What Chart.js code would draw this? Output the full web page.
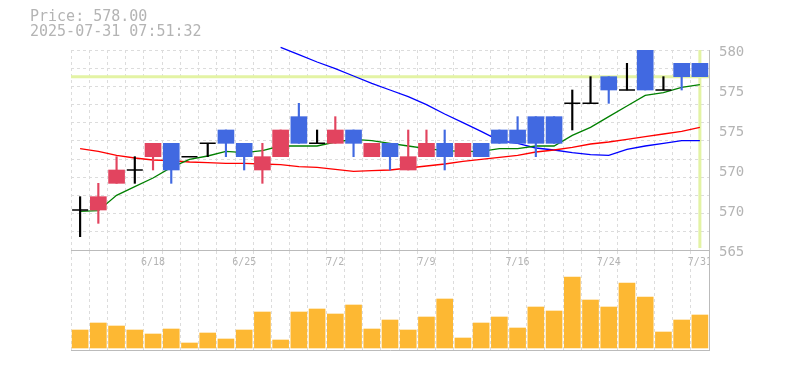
<!DOCTYPE html>
<html>
<head>
<meta charset="utf-8">
<script src="https://cdn.jsdelivr.net/npm/chart.js@4.4.1/dist/chart.umd.min.js"></script>
<style>
  body { margin: 0; background: #fff; }
  #wrap { position: relative; width: 785px; height: 370px; }
  #wrap canvas { position: absolute; left: 0; top: 0; }
</style>
</head>
<body>
<div id="wrap">
  <canvas id="price" width="785" height="370"></canvas>
  <canvas id="volume" width="785" height="370"></canvas>
</div>
<script>
const lastPrice = 578.00
const stamp = '2025-07-31 07:51:32'

const dates = ['6/12', '6/13', '6/16', '6/17', '6/18', '6/19', '6/20', '6/23', '6/24', '6/25',
  '6/26', '6/27', '6/30', '7/1', '7/2', '7/3', '7/4', '7/7', '7/8', '7/9',
  '7/10', '7/11', '7/14', '7/15', '7/16', '7/17', '7/18', '7/22', '7/23', '7/24',
  '7/25', '7/28', '7/29', '7/30', '7/31']
const tickDates = ['6/18', '6/25', '7/2', '7/9', '7/16', '7/24', '7/31']

const opens  = [568, 568, 570, 571, 572, 573, 572, 573, 574, 573, 571, 572, 575, 573, 573, 574, 572, 573, 571, 572, 573, 572, 573, 574, 574, 575, 575, 576, 576, 578, 577, 580, 577, 579, 579]
const highs  = [569, 570, 572, 572, 573, 573, 572, 573, 574, 573, 573, 574, 576, 574, 575, 574, 573, 573, 574, 574, 574, 573, 573, 574, 575, 575, 575, 577, 578, 578, 579, 580, 578, 579, 579]
const lows   = [566, 567, 570, 570, 571, 570, 572, 572, 572, 571, 570, 572, 573, 573, 573, 572, 572, 571, 571, 572, 571, 572, 572, 573, 573, 572, 573, 574, 576, 576, 577, 577, 577, 577, 578]
const closes = [568, 569, 571, 571, 573, 571, 572, 573, 573, 572, 572, 574, 573, 573, 574, 573, 573, 572, 572, 573, 572, 573, 572, 573, 573, 573, 573, 576, 576, 577, 577, 577, 577, 578, 578]

const ma5  = [567.9, 567.95, 569.1, 569.75, 570.4, 571.2, 571.8, 572.05, 572.4, 572.3, 572.45, 572.8, 572.8, 572.8, 573.1, 573.3, 573.2, 573.0, 572.8, 572.6, 572.45, 572.4, 572.4, 572.6, 572.6, 572.8, 572.8, 573.6, 574.2, 575.0, 575.8, 576.6, 576.8, 577.2, 577.4]
const ma25 = [572.6, 572.4, 572.1, 571.9, 571.75, 571.7, 571.6, 571.55, 571.5, 571.5, 571.45, 571.4, 571.25, 571.2, 571.05, 570.9, 570.95, 571.0, 571.15, 571.3, 571.45, 571.65, 571.8, 571.95, 572.1, 572.35, 572.5, 572.7, 572.95, 573.1, 573.3, 573.5, 573.7, 573.9, 574.2]
const ma75 = [null, null, null, null, null, null, null, null, null, null, null,
  580.2, 579.65, 579.1, 578.6, 578.05, 577.5, 577.0, 576.5, 575.9, 575.2, 574.55, 573.9, 573.2, 573.0, 572.65, 572.5, 572.3, 572.15, 572.1, 572.55, 572.8, 573.0, 573.2, 573.2]

const volumes = [1800, 2500, 2200, 1800, 1400, 1900, 500, 1500, 900, 1800, 3600, 800, 3600, 3900, 3400, 4300, 1900, 2800, 1800, 3100,
  4900, 1000, 2500, 3100, 2000, 4100, 3700, 7100, 4800, 4100, 6500, 5100, 1600, 2800, 3300]

const upColor = '#e2445f'
const downColor = '#4169e1'
const gridColor = '#dcdcdc'
const textColor = '#b4b4b4'
const mono = "'DejaVu Sans Mono', monospace"

// bodies as floating bars, doji drawn as a short horizontal line
const bodies = opens.map((o, i) => o === closes[i] ? null : [o, closes[i]])
const wicks = lows.map((l, i) => [l, highs[i]])
const dojis = opens.map((o, i) => o === closes[i] ? closes[i] : null)
const bodyColors = opens.map((o, i) => closes[i] > o ? upColor : downColor)
const wickColors = opens.map((o, i) => o === closes[i] ? '#000' : (closes[i] > o ? upColor : downColor))

const priceLine = {
  id: 'priceLine',
  beforeDatasetsDraw(chart) {
    const {ctx, chartArea, scales} = chart
    const y = scales.y.getPixelForValue(lastPrice)
    const x = scales.x.getPixelForValue(dates.length - 1)
    ctx.save()
    ctx.strokeStyle = '#e3f3a4'
    ctx.lineWidth = 3
    ctx.beginPath()
    ctx.moveTo(chartArea.left, y)
    ctx.lineTo(chartArea.right, y)
    ctx.moveTo(x, chartArea.top)
    ctx.lineTo(x, chartArea.bottom - 2)
    ctx.stroke()
    ctx.restore()
  }
}

const dateLabels = {
  id: 'dateLabels',
  afterDatasetsDraw(chart) {
    const {ctx, chartArea, scales} = chart
    ctx.save()
    ctx.beginPath()
    ctx.rect(chartArea.left, chartArea.top, chartArea.right - chartArea.left, chartArea.bottom - chartArea.top)
    ctx.clip()
    ctx.font = '10px ' + mono
    ctx.fillStyle = textColor
    ctx.textAlign = 'center'
    ctx.textBaseline = 'middle'
    dates.forEach((d, i) => {
      if (tickDates.includes(d)) {
        ctx.fillText(d, scales.x.getPixelForValue(i), chartArea.top + 11)
      }
    })
    ctx.restore()
  }
}

const price = document.getElementById('price')

new Chart(price, {
  type: 'bar',
  data: {
    labels: dates,
    datasets: [
      {
        type: 'line',
        data: dojis,
        showLine: false,
        pointStyle: 'line',
        pointRadius: 8,
        pointBorderWidth: 1.5,
        pointBorderColor: '#000',
        borderColor: '#000',
        yAxisID: 'y',
        order: 0
      },
      {
        data: bodies,
        backgroundColor: bodyColors,
        barThickness: 16,
        grouped: false,
        yAxisID: 'y',
        order: 1
      },
      {
        data: wicks,
        backgroundColor: wickColors,
        barThickness: 1.5,
        grouped: false,
        yAxisID: 'y',
        order: 2
      },
      {
        type: 'line',
        data: ma5,
        borderColor: '#008000',
        borderWidth: 1.3,
        pointRadius: 0,
        yAxisID: 'y',
        order: 3
      },
      {
        type: 'line',
        data: ma25,
        borderColor: '#ff0000',
        borderWidth: 1.3,
        pointRadius: 0,
        yAxisID: 'y',
        order: 4
      },
      {
        type: 'line',
        data: ma75,
        borderColor: '#0000ff',
        borderWidth: 1.3,
        pointRadius: 0,
        clip: false,
        yAxisID: 'y',
        order: 5
      }
    ]
  },
  options: {
    responsive: false,
    animation: false,
    layout: { padding: { left: 30, right: 0, top: 0, bottom: 120 } },
    plugins: {
      legend: { display: false },
      tooltip: { enabled: false },
      title: {
        display: true,
        text: ['Price: ' + lastPrice.toFixed(2), stamp],
        align: 'start',
        color: textColor,
        font: { family: mono, size: 15, weight: 'normal', lineHeight: 1 },
        padding: { top: 10, bottom: 10 }
      }
    },
    scales: {
      x: {
        offset: true,
        grid: { offset: true, color: gridColor, drawTicks: false },
        border: { display: true, color: '#bbb', dash: [3, 3] },
        ticks: { display: false },
        afterFit: s => { s.height = 0 }
      },
      y: {
        position: 'right',
        min: 565,
        max: 580,
        ticks: {
          stepSize: 3,
          padding: 10,
          labelOffset: 2,
          color: textColor,
          font: { family: mono, size: 14 },
          callback: v => Math.round(v / 5) * 5
        },
        grid: { display: false, drawTicks: false },
        border: { display: true, color: '#bbb' },
        afterFit: s => { s.width = 76 }
      },
      yg: {
        position: 'left',
        min: 0,
        max: 11,
        ticks: { display: false, stepSize: 1 },
        grid: { color: gridColor, drawTicks: false },
        border: { display: false, dash: [3, 3] },
        afterFit: s => { s.width = 41 }
      }
    }
  },
  plugins: [priceLine]
})

const volume = document.getElementById('volume')

new Chart(volume, {
  type: 'bar',
  data: {
    labels: dates,
    datasets: [{
      data: volumes,
      backgroundColor: '#fdb833',
      barThickness: 16
    }]
  },
  options: {
    responsive: false,
    animation: false,
    layout: { padding: { left: 71, right: 0, top: 251, bottom: 20 } },
    plugins: {
      legend: { display: false },
      tooltip: { enabled: false }
    },
    scales: {
      x: {
        offset: true,
        grid: { offset: true, color: gridColor, drawTicks: false },
        border: { display: true, color: '#bbb', dash: [3, 3] },
        ticks: { display: false },
        afterFit: s => { s.height = 0 }
      },
      y: {
        position: 'right',
        min: -200,
        max: 9700,
        ticks: { display: false },
        grid: { display: false, drawTicks: false },
        border: { display: true, color: '#bbb' },
        afterFit: s => { s.width = 76 }
      }
    }
  },
  plugins: [dateLabels]
})
</script>
</body>
</html>
